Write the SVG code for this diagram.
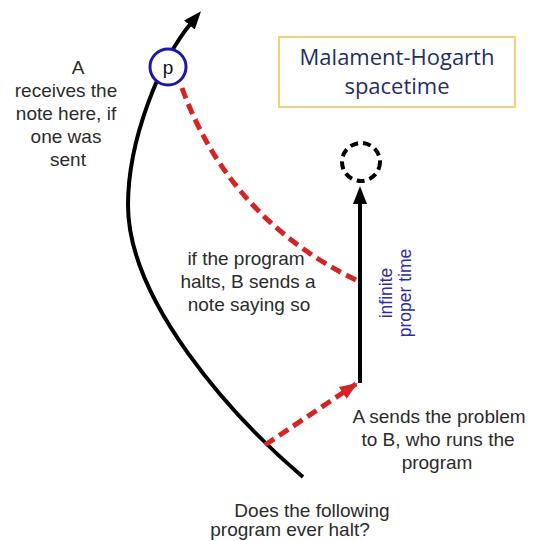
<svg xmlns="http://www.w3.org/2000/svg" width="533" height="541" viewBox="0 0 533 541">
<defs>
<style>
.lbl{font-family:"Liberation Sans",Arial,sans-serif;font-size:19px;fill:#2b2b2b;text-anchor:middle}
.blue{font-family:"Liberation Sans",Arial,sans-serif;font-size:17.5px;fill:#2c2ca8;text-anchor:middle}
.title{font-family:"Open Sans",sans-serif;font-size:22px;fill:#1f2f5e;text-anchor:middle}
.world{fill:none;stroke:#000;stroke-width:4}
.signal{fill:none;stroke:#d42424;stroke-width:5;stroke-dasharray:11 6}
</style>
<marker id="ahBlack" markerUnits="userSpaceOnUse" markerWidth="20" markerHeight="20" viewBox="0 0 20 20" refX="4" refY="10" orient="auto">
<path d="M0,3 L18,10 L0,17 Z" fill="#000"/>
</marker>
<marker id="ahRed" markerUnits="userSpaceOnUse" markerWidth="20" markerHeight="20" viewBox="0 0 20 20" refX="16" refY="10" orient="auto">
<path d="M0,3 L18,10 L0,17 Z" fill="#d42424"/>
</marker>
</defs>
<rect width="533" height="541" fill="#fff"/>

<g id="connectors">
<path id="worldline-A" class="world" d="M303,477 C230,415 128,300 128,205 C128,140 160,60 192,22" marker-end="url(#ahBlack)"/>
<path id="worldline-B" class="world" d="M360,383 L360,200" marker-end="url(#ahBlack)"/>
<path id="signal-send" class="signal" d="M265,445 L356,384" marker-end="url(#ahRed)"/>
<path id="signal-return" class="signal" d="M182,88 Q230,220 360,282"/>
</g>

<g id="node-p">
<circle cx="168" cy="67" r="18" fill="#fff" stroke="#1a1aa8" stroke-width="3"/>
<text x="168" y="74" style="font-family:'Liberation Sans',Arial,sans-serif;font-size:19px;fill:#111;text-anchor:middle">p</text>
</g>

<g id="node-end">
<circle cx="361" cy="162" r="19" fill="none" stroke="#000" stroke-width="4" stroke-dasharray="8 5"/>
</g>

<g id="node-title">
<rect x="279" y="37" width="236" height="70" fill="#fff" stroke="#e6c24c" stroke-width="1.5"/>
<text class="title" x="397" y="65">Malament-Hogarth</text>
<text class="title" x="397" y="94">spacetime</text>
</g>

<g id="label-receive">
<text class="lbl" x="78" y="74">A</text>
<text class="lbl" x="66" y="97">receives the</text>
<text class="lbl" x="66" y="120">note here, if</text>
<text class="lbl" x="66" y="143">one was</text>
<text class="lbl" x="68" y="166">sent</text>
</g>

<g id="label-halts">
<text class="lbl" x="246" y="265">if the program</text>
<text class="lbl" x="248" y="288">halts, B sends a</text>
<text class="lbl" x="249" y="311">note saying so</text>
</g>

<g id="label-proper-time">
<text class="blue" transform="translate(392,293) rotate(-90)">infinite</text>
<text class="blue" transform="translate(411,293) rotate(-90)">proper time</text>
</g>

<g id="label-send">
<text class="lbl" x="439" y="423">A sends the problem</text>
<text class="lbl" x="438" y="446">to B, who runs the</text>
<text class="lbl" x="437" y="469">program</text>
</g>

<g id="label-question">
<text class="lbl" x="312" y="517">Does the following</text>
<text class="lbl" x="290" y="536">program ever halt?</text>
</g>
</svg>
